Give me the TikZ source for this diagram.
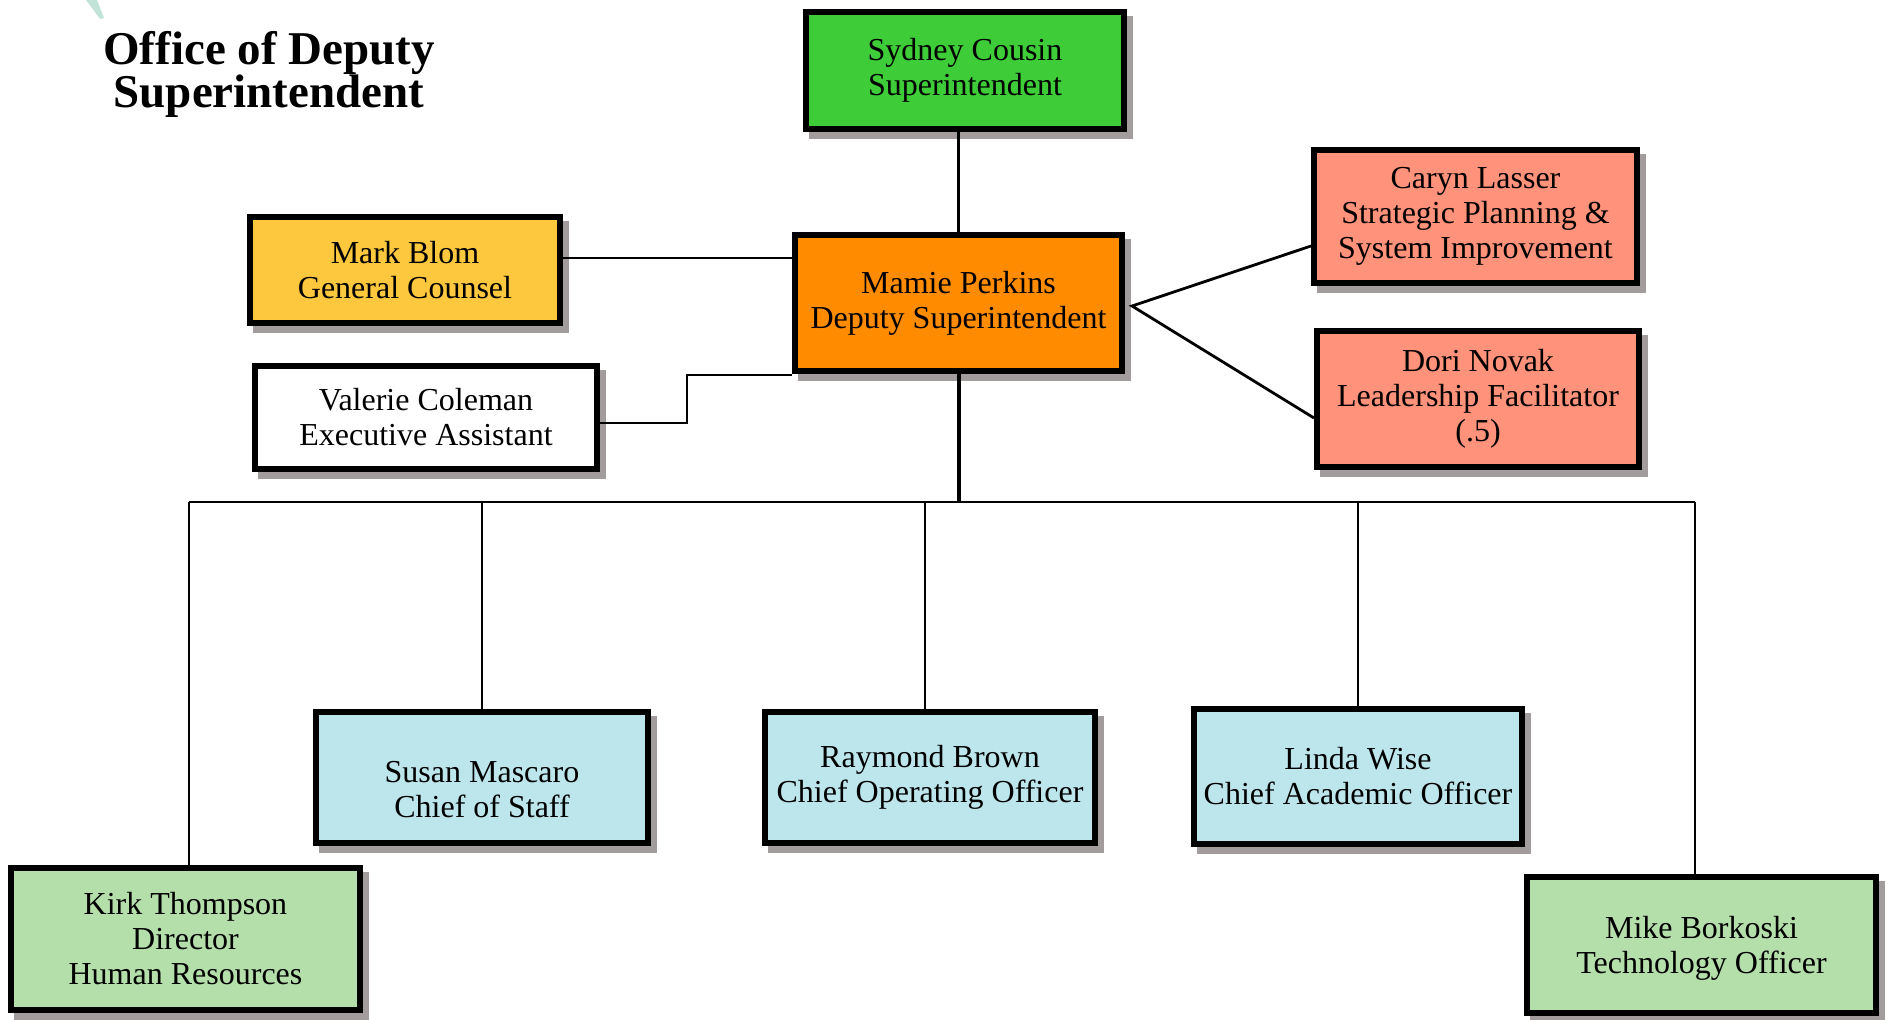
\documentclass[tikz,border=0pt]{standalone}
\usepackage{fontspec}
\setmainfont{Liberation Serif}
\usetikzlibrary{shadows,calc}
\definecolor{shadowgray}{RGB}{163,156,156}
\definecolor{supgreen}{RGB}{62,205,56}
\definecolor{depor}{RGB}{255,140,0}
\definecolor{gcyel}{RGB}{253,199,62}
\definecolor{salmon}{RGB}{255,146,122}
\definecolor{chiefblue}{RGB}{189,230,236}
\definecolor{paleg}{RGB}{180,222,170}
\definecolor{logoteal}{RGB}{178,220,206}
\begin{document}
\begin{tikzpicture}[x=1pt,y=-1pt,
  box/.style={draw=black, line width=6pt, align=center, inner sep=0pt,
    font=\fontsize{32}{35}\selectfont,
    drop shadow={shadow xshift=6pt, shadow yshift=-7pt, fill=shadowgray, draw=shadowgray, opacity=1}},
  conn/.style={line width=2.8pt},
  thickconn/.style={line width=4pt},
  titlefont/.style={font=\fontsize{47}{44}\selectfont\bfseries}]
\useasboundingbox (0,0) rectangle (1888,1020);
\fill[white] (0,0) rectangle (1888,1020);
% faint logo fragment
\fill[logoteal!80!white] (86,0) -- (97,0) -- (104,18) -- (100,19) -- cycle;
% title
\node[titlefont, anchor=base] (title1) at (269,64) {Office of Deputy};
\node[titlefont, anchor=base] (title2) at (269,107) {Superintendent};
% boxes
\node[box, fill=supgreen, minimum width=318pt, minimum height=117pt] (sydney) at (965,70.5) {Sydney Cousin\\Superintendent};
\node[box, fill=depor, minimum width=327pt, minimum height=136pt] (mamie) at (958.5,303) {Mamie Perkins\\Deputy Superintendent};
\node[box, fill=gcyel, minimum width=310pt, minimum height=106pt] (mark) at (405,270) {Mark Blom\\General Counsel};
\node[box, fill=white, minimum width=342pt, minimum height=103pt] (valerie) at (426,417.5) {Valerie Coleman\\Executive Assistant};
\node[box, fill=salmon, minimum width=323pt, minimum height=133pt] (caryn) at (1475.5,216.5) {Caryn Lasser\\Strategic Planning \&\\System Improvement};
\node[box, fill=salmon, minimum width=322pt, minimum height=136pt] (dori) at (1478,399) {Dori Novak\\Leadership Facilitator\\(.5)};
\node[box, fill=chiefblue, minimum width=332pt, minimum height=131pt] (susan) at (482,777.5) {\rule{0pt}{46pt}Susan Mascaro\\Chief of Staff};
\node[box, fill=chiefblue, minimum width=330pt, minimum height=131pt] (raymond) at (930,777.5) {Raymond Brown\\Chief Operating Officer};
\node[box, fill=chiefblue, minimum width=328pt, minimum height=135pt] (linda) at (1358,776.5) {Linda Wise\\Chief Academic Officer};
\node[box, fill=paleg, minimum width=349pt, minimum height=142pt] (kirk) at (185.5,939) {Kirk Thompson\\Director\\Human Resources};
\node[box, fill=paleg, minimum width=349pt, minimum height=136pt] (mike) at (1701.5,945) {\rule{0pt}{28pt}Mike Borkoski\\Technology Officer};
% connectors
\draw[conn] (mamie.north) -- (mamie.north |- sydney.south);
\coordinate (mk) at ([yshift=12pt]mark.east);
\draw[conn] (mk) -- (mk -| mamie.west);
\coordinate (va) at ([yshift=-5.5pt]valerie.east);
\draw[conn] (va) -- ++(87,0) |- ([yshift=-1pt]mamie.south west);
\coordinate (ap) at ([xshift=7pt,yshift=-3pt]mamie.east);
\draw[conn] ([yshift=-29.5pt]caryn.west) -- (ap) -- ([yshift=-19pt]dori.west);
\coordinate (bus) at (957,502);
\draw[thickconn] (mamie.south) -- (mamie.south |- bus);
\coordinate (busL) at ([xshift=3.5pt]kirk.north |- bus);
\coordinate (busR) at ([xshift=-6.5pt]mike.north |- bus);
\draw[conn] (busL) -- (busR);
\draw[conn] ([xshift=3.5pt]kirk.north) -- (busL);
\draw[conn] (susan.north) -- (susan.north |- bus);
\draw[conn] ([xshift=-5pt]raymond.north) -- ([xshift=-5pt]raymond.north |- bus);
\draw[conn] (linda.north) -- (linda.north |- bus);
\draw[conn] ([xshift=-6.5pt]mike.north) -- (busR);
\end{tikzpicture}
\end{document}
